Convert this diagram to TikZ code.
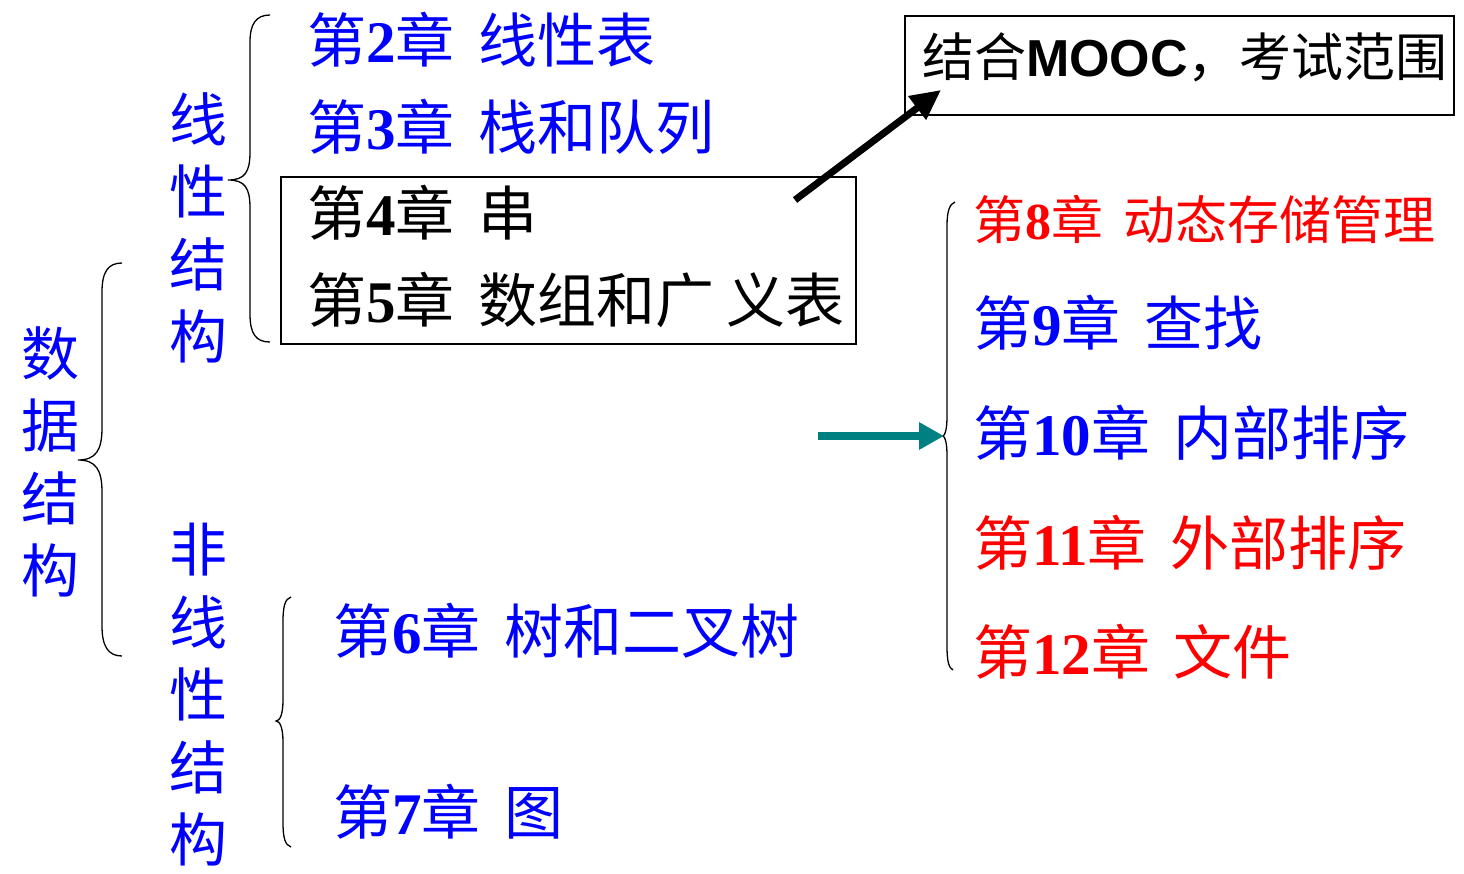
\documentclass[tikz,border=0pt]{standalone}
\usepackage{fontspec}
\usetikzlibrary{arrows.meta}
\newfontfamily\cjk{Noto Sans CJK SC}
\newfontfamily\numf{Liberation Serif Bold}
\newfontfamily\latsans{Liberation Sans}[BoldFont={Liberation Sans Bold}]
\definecolor{cblue}{RGB}{0,0,255}
\definecolor{cred}{RGB}{255,0,0}
\definecolor{cteal}{RGB}{0,128,128}
\newcommand{\chap}[2]{\cjk 第{\numf #1}章\hspace{0.4em}#2}
\begin{document}
\begin{tikzpicture}[x=1pt,y=-1pt,
  chtext/.style={anchor=west, inner sep=0pt, font=\cjk\fontsize{59}{61}\selectfont},
  chsmall/.style={anchor=west, inner sep=0pt, font=\cjk\fontsize{52}{54}\selectfont},
  vlabel/.style={align=center, inner sep=0pt, text=cblue, font=\cjk\fontsize{58}{72.5}\selectfont},
  brace/.style={draw=black, line width=1.3pt},
  framebox/.style={draw=black, line width=1.6pt, inner sep=0pt},
  bigarrow/.style={line width=7pt, -{Triangle[length=30pt,width=28pt]}},
  tealarrow/.style={draw=cteal, line width=8pt, -{Triangle[length=25pt,width=26pt]}}]
\useasboundingbox (0,0) rectangle (1464,873);
\fill[white] (0,0) rectangle (1464,873);

% vertical labels
\node[vlabel] (ds) at (50,462) {数\\据\\结\\构};
\node[vlabel] (lin) at (198,228) {线\\性\\结\\构};
\node[vlabel] (nonlin) at (198,695) {非\\线\\性\\结\\构};

% braces
\draw[brace] (122,263) .. controls (108,263) and (102,272) .. (102,292) -- (102,428)
  .. controls (102,450) and (96,460) .. (78,460)
  .. controls (96,460) and (102,470) .. (102,492) -- (102,626)
  .. controls (102,646) and (108,656) .. (122,656);
\draw[brace] (270,15) .. controls (256,15) and (250,24) .. (250,42) -- (250,152)
  .. controls (250,172) and (245,180) .. (228,180)
  .. controls (245,180) and (250,188) .. (250,208) -- (250,314)
  .. controls (250,334) and (256,342) .. (270,342);
\draw[brace] (291,597) .. controls (285,599) and (283,606) .. (283,622) -- (283,700)
  .. controls (283,714) and (280,721) .. (276,721)
  .. controls (280,721) and (283,728) .. (283,742) -- (283,822)
  .. controls (283,838) and (285,845) .. (291,847);
\draw[brace] (955,202) .. controls (950,204) and (947,210) .. (947,226) -- (947,416)
  .. controls (947,430) and (945,435) .. (943,436)
  .. controls (945,437) and (947,442) .. (947,456) -- (947,646)
  .. controls (947,662) and (949,668) .. (953,670);

% linear chapters
\node[chtext, text=cblue] (c2) at (307,40) {\chap{2}{线性表}};
\node[chtext, text=cblue] (c3) at (307,127) {\chap{3}{栈和队列}};
\node[framebox, minimum width=575pt, minimum height=167pt] (box45) at (568.5,260.5) {};
\node[chtext, text=black] (c4) at (307,213) {\chap{4}{串}};
\node[chtext, text=black] (c5) at (307,300) {\chap{5}{数组和广\hspace{0.2em}义表}};

% nonlinear chapters
\node[chtext, text=cblue] (c6) at (333,631) {\chap{6}{树和二叉树}};
\node[chtext, text=cblue] (c7) at (333,812) {\chap{7}{图}};

% MOOC box
\node[framebox, minimum width=549pt, minimum height=99pt] (mooc) at (1179.5,65.5) {};
\node[anchor=west, inner sep=0pt, font=\fontsize{52}{54}\selectfont] (mtext) at (922,57)
  {{\cjk 结合}{\latsans\bfseries MOOC}{\cjk ，考试范围}};

% right chapters
\node[chsmall, text=cred] (c8) at (973,219) {\chap{8}{动态存储管理}};
\node[chtext, text=cblue] (c9) at (973,323) {\chap{9}{查找}};
\node[chtext, text=cblue] (c10) at (973,433) {\chap{10}{内部排序}};
\node[chtext, text=cred] (c11) at (973,543) {\chap{11}{外部排序}};
\node[chtext, text=cred] (c12) at (973,652) {\chap{12}{文件}};

% arrows
\coordinate (a1) at (795,200);
\coordinate (a2) at (941,90);
\draw[bigarrow] (a1) -- (a2);
\coordinate (t1) at (818,436);
\coordinate (t2) at (944,436);
\draw[tealarrow] (t1) -- (t2);
\end{tikzpicture}
\end{document}
